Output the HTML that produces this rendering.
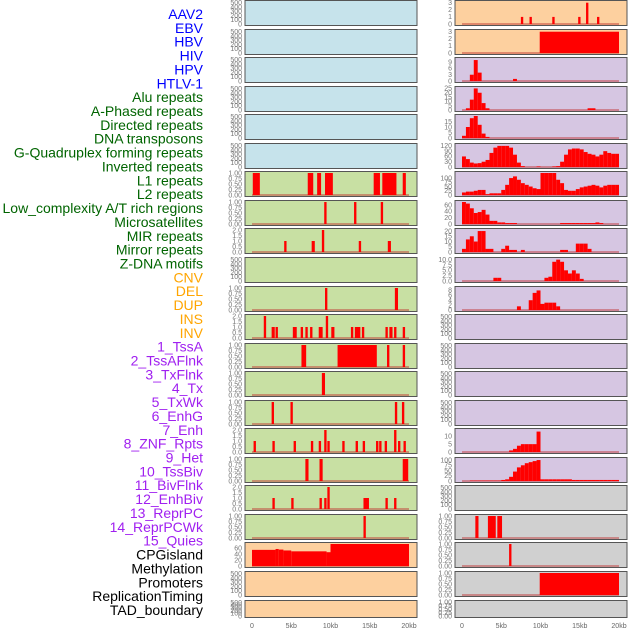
<!DOCTYPE html>
<html><head><meta charset="utf-8"><style>
body{margin:0;background:#fff;width:630px;height:630px;overflow:hidden;font-family:"Liberation Sans",sans-serif}
</style></head><body>
<svg id="chart" width="630" height="630" xmlns="http://www.w3.org/2000/svg" font-family="Liberation Sans, sans-serif">
<g id="labels"></g>
<g id="panels"></g>
</svg>
<script>
const labelNames=["AAV2","EBV","HBV","HIV","HPV","HTLV-1","Alu repeats","A-Phased repeats","Directed repeats","DNA transposons","G-Quadruplex forming repeats","Inverted repeats","L1 repeats","L2 repeats","Low_complexity A/T rich regions","Microsatellites","MIR repeats","Mirror repeats","Z-DNA motifs","CNV","DEL","DUP","INS","INV","1_TssA","2_TssAFlnk","3_TxFlnk","4_Tx","5_TxWk","6_EnhG","7_Enh","8_ZNF_Rpts","9_Het","10_TssBiv","11_BivFlnk","12_EnhBiv","13_ReprPC","14_ReprPCWk","15_Quies","CPGisland","Methylation","Promoters","ReplicationTiming","TAD_boundary"];
const labelColors=["#0000ff","#006400","#ffa500","#a020f0","#000000"];
const labelGroupSizes=[6,13,5,15,5];
const xTickKb=[0,5,10,15,20];
const xTickLabels=["0","5kb","10kb","15kb","20kb"];

// segments: [startKb,endKb,value]
const L6=[[0.1,1.0,1],[7.1,7.8,1],[8.3,8.8,1],[9.3,10.3,1],[15.5,16.3,1],[16.6,18.4,1],[19.2,19.6,1]];
const L7=[[9.2,9.5,1],[13.0,13.3,1],[16.4,16.7,1]];
const L8=[[4.1,4.4,1],[7.6,8.0,1],[8.9,9.2,2],[13.6,13.9,1],[17.3,17.7,1]];
const L10=[[9.3,9.6,1],[18.2,18.6,1]];
const L11=[[1.5,1.8,2],[2.5,2.9,1],[3.0,3.3,1],[5.2,5.7,1],[6.2,6.5,1],[6.8,7.1,1],[7.4,7.7,1],[8.5,9.0,1],[9.4,9.7,2],[10.1,10.5,1],[12.6,12.9,1],[13.1,13.8,1],[14.0,14.3,1],[17.0,17.3,1],[17.5,17.9,1],[18.1,18.4,1],[19.2,19.5,1]];
const L12=[[6.3,6.9,1],[10.9,15.9,1],[17.2,17.5,1],[19.2,19.5,1]];
const L13=[[8.9,9.3,1]];
const L14=[[2.5,2.8,1],[4.9,5.2,1],[18.2,18.5,1],[19.1,19.4,1]];
const L15=[[0.2,0.5,1],[2.6,2.9,1],[5.3,5.6,1],[7.5,7.8,1],[8.5,8.8,1],[9.2,9.5,2],[9.6,9.9,1],[11.5,11.8,1],[13.2,13.5,1],[14.1,14.4,1],[15.8,16.1,1],[16.2,16.5,1],[16.9,17.2,1],[18.1,18.4,2],[18.6,18.9,1],[19.3,19.6,1]];
const L16=[[6.8,7.2,1],[8.6,9.0,1],[19.2,19.9,1]];
const L17=[[2.6,2.9,1],[5.0,5.3,1],[8.6,8.9,1],[9.2,9.5,1],[9.6,9.9,2],[14.2,14.9,1],[17.0,17.3,1],[18.1,18.4,1]];
const L18=[[14.2,14.5,1]];
const L19=[[0,3,55],[3,3.4,58],[3.4,4,56],[4,5,53],[5,9.5,50],[9.5,10,47],[10,20,75]];
const R0=[[7.5,7.8,1],[8.6,8.9,1],[11.5,11.8,1],[14.8,15.1,1],[15.8,16.1,3],[17.2,17.5,1]];
const R1=[[9.9,20,3]];
const R18=[[1.7,2.1,1],[3.3,4.3,1],[4.5,5.1,1]];
const R19=[[6.0,6.3,1]];
const R20=[[9.9,20,1]];
// profile bins (0.5kb each, from 0kb)
const R2=[0,0,3,10,4,0,0,0,0,0,0,0,0,1,0,0,0,0,0,0,0,0,0,0,0,0,0,0,0,0,0,0,0,0,0,0,0,0,0,0];
const R3=[0,2,12,25,20,8,2,0,0,0,0,0,0,0,0,0,0,0,0,0,0,0,0,0,0,0,0,0,0,0,0,0,2,2,0,0,0,0,0,0];
const R4=[2,10,18,20,12,4,1,0,0,0,0,0,0,0,0,0,0,0,0,0,0,0,0,0,0,0,0,0,0,0,0,0,0,0,0,0,0,0,0,0];
const R5=[60,45,25,20,22,30,40,80,110,120,120,120,110,70,25,5,0,0,0,3,0,0,0,3,5,30,70,100,105,105,100,85,75,70,60,70,90,80,75,75];
const R6=[15,20,20,25,30,30,5,10,10,10,30,60,100,110,90,70,60,50,40,35,130,130,130,130,90,70,30,25,25,35,45,50,55,60,55,45,55,60,60,60];
const R7=[70,65,50,35,38,45,30,10,10,5,5,3,3,3,0,0,0,0,0,0,0,0,0,0,0,3,3,3,3,3,3,3,3,3,5,3,0,0,0,0];
const R8=[3,12,15,10,20,20,3,3,0,0,3,6,2,2,0,2,0,0,0,0,0,0,0,0,0,2,2,0,0,8,8,8,3,0,0,0,0,0,0,0];
const R9=[0,0,0,0,0,0,0,0,1.5,1.5,0,0,0,0,0,0,0,0,0,0,0,1.5,2,9,10,9,5,3.5,5,3.5,1,0,0,0,0,0,0,0,0,0];
const R10=[0,0,0,0,0,0,0,0,0,0,0,0,0,0,1.5,0,0,4,7,8,2.5,3,3,3,1.5,0,0,0,0,0,0,0,0,0,0,0,0,0,0,0];
const R15=[0,0,0,0,0,0,0,0,0,0,0,0,1,2,4,5,5,5,5,13,0,0,0,0,0,0,0,0,0,0,0,0,0,0,0,0,0,0,0,0];
const R16=[0,0,2,2,2,2,2,2,2,2,5,8,20,45,65,75,85,90,95,100,8,8,8,8,8,8,8,8,5,5,5,5,5,5,5,5,5,5,5,5];

const tk500=[[0,100,200,300,400,500],["0","100","200","300","400","500"],520];
const tk1=[[0,0.25,0.5,0.75,1],["0.00","0.25","0.50","0.75","1.00"],1.0];
const tk2=[[0,0.5,1,1.5,2],["0.0","0.5","1.0","1.5","2.0"],2.0];
const BLUE="#c6e3eb",GREEN="#c8e0a3",ORANGE="#fdd09f",LAV="#d6c6e2",GREY="#d0d0d0";
const panels=[
 ["L",0,BLUE,tk500,null,null],["L",1,BLUE,tk500,null,null],["L",2,BLUE,tk500,null,null],["L",3,BLUE,tk500,null,null],["L",4,BLUE,tk500,null,null],["L",5,BLUE,tk500,null,null],
 ["L",6,GREEN,tk1,L6,null],["L",7,GREEN,tk1,L7,null],["L",8,GREEN,tk2,L8,null],["L",9,GREEN,tk500,null,null],["L",10,GREEN,tk1,L10,null],["L",11,GREEN,tk2,L11,null],
 ["L",12,GREEN,tk1,L12,null],["L",13,GREEN,tk1,L13,null],["L",14,GREEN,tk1,L14,null],["L",15,GREEN,tk2,L15,null],["L",16,GREEN,tk1,L16,null],["L",17,GREEN,tk2,L17,null],["L",18,GREEN,tk1,L18,null],
 ["L",19,ORANGE,[[0,20,40,60],["0","20","40","60"],75],L19,null],["L",20,ORANGE,tk500,null,null],["L",21,ORANGE,tk500,null,null],
 ["R",0,ORANGE,[[0,1,2,3],["0","1","2","3"],3.1],R0,null],["R",1,ORANGE,[[0,1,2,3],["0","1","2","3"],3.1],R1,null],
 ["R",2,LAV,[[0,3,6,9],["0","3","6","9"],10.5],null,R2],["R",3,LAV,[[0,5,10,15,20,25],["0","5","10","15","20","25"],25.5],null,R3],
 ["R",4,LAV,[[0,5,10,15],["0","5","10","15"],20],null,R4],["R",5,LAV,[[0,30,60,90,120],["0","30","60","90","120"],125],null,R5],
 ["R",6,LAV,[[0,25,50,75,100],["0","25","50","75","100"],130],null,R6],["R",7,LAV,[[0,20,40,60],["0","20","40","60"],70],null,R7],
 ["R",8,LAV,[[0,5,10,15,20],["0","5","10","15","20"],21],null,R8],["R",9,LAV,[[0,2.5,5,7.5,10],["0.0","2.5","5.0","7.5","10.0"],10.3],null,R9],
 ["R",10,LAV,[[0,2,4,6,8],["0","2","4","6","8"],9],null,R10],
 ["R",11,LAV,tk500,null,null],["R",12,LAV,tk500,null,null],["R",13,LAV,tk500,null,null],["R",14,LAV,tk500,null,null],
 ["R",15,LAV,[[0,5,10],["0","5","10"],14],null,R15],["R",16,LAV,[[0,25,50,75,100],["0","25","50","75","100"],105],null,R16],
 ["R",17,GREY,tk500,null,null],["R",18,GREY,tk1,R18,null],["R",19,GREY,tk1,R19,null],["R",20,GREY,tk1,R20,null],["R",21,GREY,tk1,null,null]
];

const NS="http://www.w3.org/2000/svg";
function mk(tag,attrs,parent){const e=document.createElementNS(NS,tag);for(const k in attrs)e.setAttribute(k,attrs[k]);parent.appendChild(e);return e;}
const lg=document.getElementById('labels');
let gi=0,cnt=0;
labelNames.forEach((n,i)=>{
  while(cnt>=labelGroupSizes[gi]){gi++;cnt=0;}
  cnt++;
  const t=mk('text',{x:203,y:14+i*13.86+5,'text-anchor':'end','font-size':14,fill:labelColors[gi]},lg);
  
  
  t.textContent=n;
});
const pg=document.getElementById('panels');
function colX(c){return c==="L"?245:455;}
function xScale(c,kb){return (c==="L"?252:462)+kb*7.85;}
panels.forEach(p=>{
  const [c,r,bg,tk,segs,bins]=p;
  const x0=colX(c),w=172;
  const top=r===21?600.5:Math.round(r*28.55)+0.5;
  const h=r===21?17:25;
  const g=mk('g',{},pg);
  
  
  const bgr=mk('rect',{x:x0,y:top,width:w,height:h,fill:bg,stroke:'#555',"stroke-width":1},g);
  
  
  const ymax=tk[2];
  const y=v=>top+h-1.5-v/ymax*(h-3);
  tk[0].forEach((v,i)=>{
    const t=mk('text',{x:x0-3,y:y(v)+2.3,'text-anchor':'end','font-size':7,fill:'#777'},g);
    
    
    t.textContent=tk[1][i];
  });
  let s=segs;
  if(bins){s=[];bins.forEach((v,i)=>{if(v>0)s.push([i*0.5,(i+1)*0.5,v]);});}
  if(segs||bins){
    const bl=mk('line',{x1:xScale(c,0),x2:xScale(c,20),y1:y(0),y2:y(0),stroke:'#c03030','stroke-opacity':0.6,'stroke-width':1.5},g);
    
    
  }
  if(s){s.forEach(d=>{
    const xa=xScale(c,d[0]),xb=xScale(c,d[1]);
    const b=mk('rect',{x:xa,y:y(d[2]),width:Math.max(1.5,xb-xa),height:Math.max(0,y(0)-y(d[2])),fill:'#ff0000'},g);
    
    
  });}
});
["L","R"].forEach(c=>{
  xTickKb.forEach((kb,i)=>{
    const t=mk('text',{x:xScale(c,kb),y:628,'text-anchor':'middle','font-size':7,fill:'#666'},pg);
    
    
    t.textContent=xTickLabels[i];
  });
});
</script>
</body></html>
